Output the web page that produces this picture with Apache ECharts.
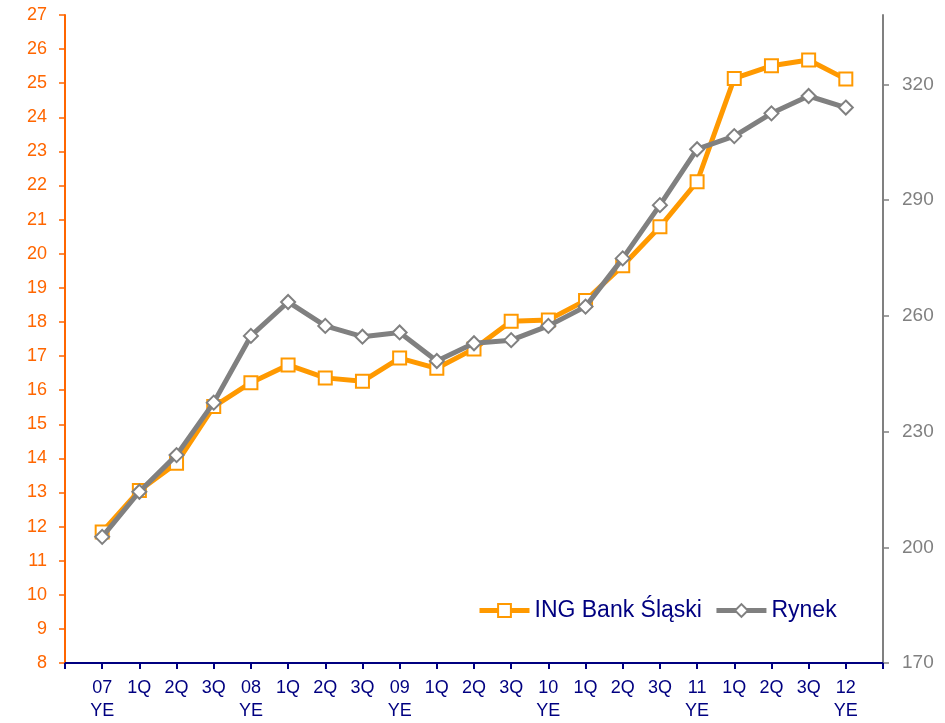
<!DOCTYPE html>
<html>
<head>
<meta charset="utf-8">
<script src="https://cdn.jsdelivr.net/npm/echarts@6/dist/echarts.min.js"></script>
<style>
  html, body { margin: 0; padding: 0; background: #fff; }
  #chart { width: 945px; height: 723px; }
</style>
</head>
<body>
<div id="chart"></div>
<script type="text/javascript">
// quarters, with an empty slot at each end of the axis
var categories = ["", "07\nYE", "1Q", "2Q", "3Q", "08\nYE", "1Q", "2Q", "3Q", "09\nYE", "1Q", "2Q", "3Q",
  "10\nYE", "1Q", "2Q", "3Q", "11\nYE", "1Q", "2Q", "3Q", "12\nYE", ""];

// ING Bank Slaski (left axis)
var ingValues = [11.84, 13.06, 13.86, 15.52, 16.22, 16.74, 16.36, 16.26, 16.94, 16.64, 17.21,
  18.02, 18.06, 18.63, 19.65, 20.79, 22.11, 25.14, 25.51, 25.68, 25.12];

// Rynek (right axis)
var rynekValues = [202.7, 214.4, 223.9, 237.5, 254.8, 263.6, 257.4, 254.6, 255.7, 248.3, 252.9,
  253.7, 257.4, 262.4, 274.9, 288.7, 303.2, 306.6, 312.5, 317, 314];

var rightTicks = [170, 200, 230, 260, 290, 320];

var seriesNames = ["ING Bank Śląski", "Rynek"];

function pad(arr) {
  return ["-"].concat(arr, ["-"]);
}

var chart = echarts.init(document.getElementById("chart"));
var font = "Liberation Sans, Arial, sans-serif";

chart.setOption({
  animation: false,
  textStyle: { fontFamily: font },
  grid: {
    left: 65,
    right: 62,
    top: 15,
    bottom: 60,
    containLabel: false,
    outerBoundsMode: "none"
  },
  legend: {
    left: 472,
    top: 594,
    itemWidth: 50,
    itemHeight: 16,
    itemGap: 12,
    data: seriesNames,
    lineStyle: { width: 5 },
    textStyle: { color: "#000080", fontSize: 23, fontFamily: font }
  },
  xAxis: {
    type: "category",
    data: categories,
    boundaryGap: false,
    axisLine: { lineStyle: { color: "#000080", width: 2 } },
    axisTick: { interval: 0, length: 6, lineStyle: { color: "#000080", width: 2 } },
    axisLabel: {
      interval: 0,
      color: "#000080",
      fontSize: 18,
      lineHeight: 23,
      margin: 14,
      verticalAlign: "top"
    },
    splitLine: { show: false }
  },
  yAxis: [
    {
      type: "value",
      position: "left",
      min: 8,
      max: 27,
      interval: 1,
      axisLine: { show: true, lineStyle: { color: "#FF6600", width: 2 } },
      axisTick: { show: true, length: 6, lineStyle: { color: "#FF6600", width: 1.5 } },
      axisLabel: { color: "#FF6600", fontSize: 18, margin: 18 },
      splitLine: { show: false }
    },
    {
      type: "value",
      position: "right",
      min: 170,
      max: 338,
      interval: 30,
      axisLine: { show: true, lineStyle: { color: "#808080", width: 2 } },
      axisTick: { show: true, length: 6, customValues: rightTicks, lineStyle: { color: "#808080", width: 1.5 } },
      axisLabel: { color: "#808080", fontSize: 19, margin: 19, customValues: rightTicks },
      splitLine: { show: false }
    }
  ],
  series: [
    {
      name: seriesNames[0],
      type: "line",
      yAxisIndex: 0,
      data: pad(ingValues),
      symbol: "rect",
      symbolSize: 13,
      lineStyle: { color: "#FF9900", width: 5 },
      itemStyle: { color: "#FFFFFF", borderColor: "#FF9900", borderWidth: 2 },
      z: 2
    },
    {
      name: seriesNames[1],
      type: "line",
      yAxisIndex: 1,
      data: pad(rynekValues),
      symbol: "diamond",
      symbolSize: 14,
      lineStyle: { color: "#808080", width: 5 },
      itemStyle: { color: "#FFFFFF", borderColor: "#808080", borderWidth: 2 },
      z: 3
    }
  ]
});
</script>
</body>
</html>
